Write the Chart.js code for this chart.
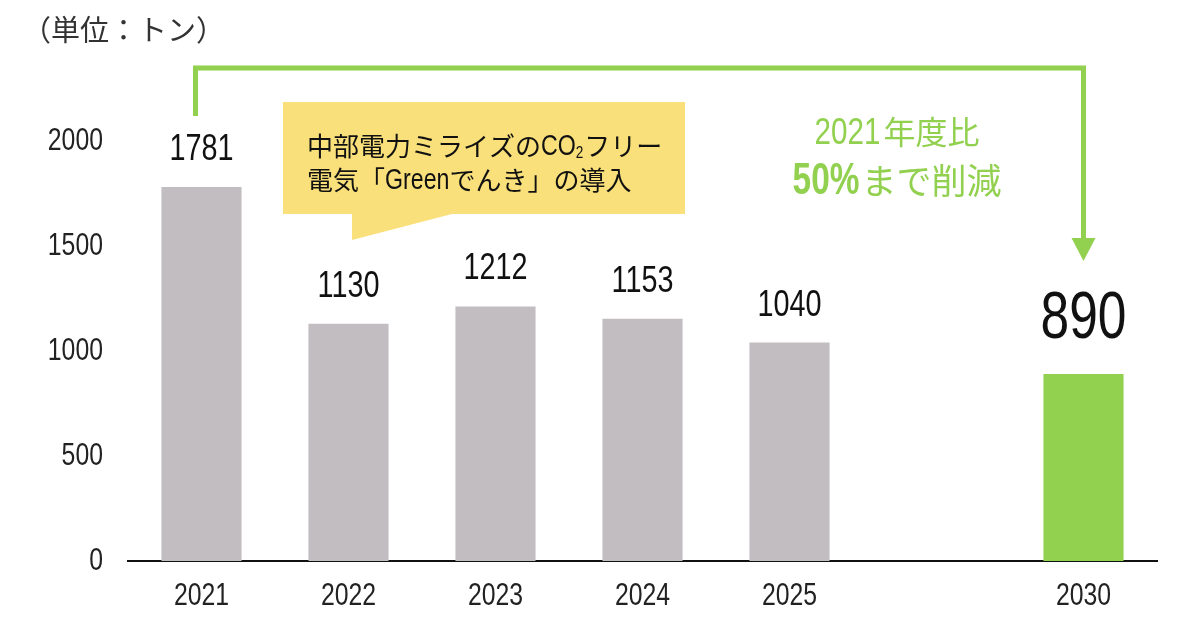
<!DOCTYPE html>
<html>
<head>
<meta charset="utf-8">
<script src="https://cdn.jsdelivr.net/npm/chart.js@4.4.1/dist/chart.umd.min.js"></script>
<style>
  html, body { margin: 0; padding: 0; background: #fff; }
  #wrap { width: 1200px; height: 634px; }
</style>
</head>
<body>
<div id="wrap"><canvas id="co2Chart" width="1200" height="634"></canvas></div>
<script>
// data
const years = ['2021', '2022', '2023', '2024', '2025', '', '2030'];
const emissions = [1781, 1130, 1212, 1153, 1040, null, 890];
const yTicks = [0, 500, 1000, 1500, 2000];

const GRAY = '#c1bdc1';
const GREEN = '#92d050';
const NUM_FONT = '"Liberation Sans", Arial, sans-serif';
const JP_FONT = '"Noto Sans CJK JP", "Noto Sans", sans-serif';
const NARROW = 0.8; // horizontal squeeze for the condensed digits

// draw text squeezed horizontally, returns drawn width
function narrowText(c, text, x, y, font, align, k) {
    k = k || NARROW;
    c.save();
    c.font = font;
    c.textAlign = align;
    c.translate(x, y);
    c.scale(k, 1);
    c.fillText(text, 0, 0);
    const w = c.measureText(text).width * k;
    c.restore();
    return w;
}

const barColors = years.map(y => y === '2030' ? GREEN : GRAY);

// axis tick labels in the condensed look
const tickLabelPlugin = {
    id: 'tickLabels',
    afterDraw(chart) {
        const c = chart.ctx;
        const xs = chart.scales.x, ys = chart.scales.y;
        c.save();
        c.fillStyle = '#222';
        c.textBaseline = 'middle';
        ys.ticks.forEach(t => {
            narrowText(c, String(t.value), ys.right - 25, ys.getPixelForValue(t.value), '31px ' + NUM_FONT, 'right');
        });
        c.textBaseline = 'alphabetic';
        years.forEach((lab, i) => {
            if (!lab) return;
            narrowText(c, lab, xs.getPixelForValue(i), xs.top + 44, '31px ' + NUM_FONT, 'center');
        });
        c.restore();
    }
};

// labels, bracket arrow and callouts
const overlayPlugin = {
    id: 'overlay',
    afterDatasetsDraw(chart) {
        const c = chart.ctx;
        const meta = chart.getDatasetMeta(0);
        const xs = chart.scales.x;
        c.save();

        // unit label
        c.fillStyle = '#333';
        c.font = '29px ' + JP_FONT;
        c.textAlign = 'left';
        c.textBaseline = 'middle';
        c.fillText('（単位：トン）', 22, 30);

        // value labels
        c.textBaseline = 'alphabetic';
        c.fillStyle = '#111';
        meta.data.forEach((bar, i) => {
            const v = emissions[i];
            if (v == null) return;
            const big = years[i] === '2030';
            narrowText(c, String(v), bar.x, bar.y - (big ? 36 : 27),
                (big ? '66px ' : '36px ') + NUM_FONT, 'center', big ? 0.78 : 0.8);
        });

        // green bracket arrow from 2021 to 2030
        const x0 = xs.getPixelForValue(0) - 6;
        const x1 = xs.getPixelForValue(years.indexOf('2030'));
        c.strokeStyle = GREEN;
        c.lineWidth = 5;
        c.lineJoin = 'miter';
        c.beginPath();
        c.moveTo(x0, 116);
        c.lineTo(x0, 68);
        c.lineTo(x1, 68);
        c.lineTo(x1, 240);
        c.stroke();
        c.fillStyle = GREEN;
        c.beginPath();
        c.moveTo(x1 - 12, 238);
        c.lineTo(x1 + 12, 238);
        c.lineTo(x1, 261);
        c.closePath();
        c.fill();

        // green annotation text
        const cx = 897;
        c.fillStyle = GREEN;
        c.textBaseline = 'alphabetic';
        c.font = '37px ' + NUM_FONT;
        const w1a = c.measureText('2021').width * NARROW;
        c.font = '32px ' + JP_FONT;
        const w1b = c.measureText('年度比').width;
        let sx = cx - (w1a + w1b + 3) / 2;
        narrowText(c, '2021', sx, 144, '37px ' + NUM_FONT, 'left');
        c.font = '32px ' + JP_FONT;
        c.textAlign = 'left';
        c.fillText('年度比', sx + w1a + 3, 144);

        c.font = 'bold 44px ' + NUM_FONT;
        const w2a = c.measureText('50%').width * 0.76;
        c.font = '35px ' + JP_FONT;
        const w2b = c.measureText('まで削減').width;
        sx = cx - (w2a + w2b + 2) / 2;
        narrowText(c, '50%', sx, 194, 'bold 44px ' + NUM_FONT, 'left', 0.76);
        c.font = '35px ' + JP_FONT;
        c.textAlign = 'left';
        c.fillText('まで削減', sx + w2a + 2, 194);

        // yellow callout
        c.fillStyle = '#f9e07a';
        c.beginPath();
        c.moveTo(283, 102);
        c.lineTo(685, 102);
        c.lineTo(685, 214);
        c.lineTo(452, 214);
        c.lineTo(352, 240);
        c.lineTo(352, 214);
        c.lineTo(283, 214);
        c.closePath();
        c.fill();

        c.fillStyle = '#111';
        c.textAlign = 'left';
        c.textBaseline = 'middle';
        const jp = '26px ' + JP_FONT;
        let tx = 307;
        c.font = jp;
        c.fillText('中部電力ミライズの', tx, 146);
        tx += c.measureText('中部電力ミライズの').width;
        tx += narrowText(c, 'CO', tx, 147, '29px ' + NUM_FONT, 'left');
        tx += narrowText(c, '2', tx, 153, '17px ' + NUM_FONT, 'left') + 1;
        c.font = jp;
        c.textAlign = 'left';
        c.fillText('フリー', tx, 146);

        tx = 307;
        c.fillText('電気「', tx, 180);
        tx += c.measureText('電気「').width;
        tx += narrowText(c, 'Green', tx, 181, '29px ' + NUM_FONT, 'left');
        c.font = jp;
        c.textAlign = 'left';
        c.fillText('でんき」の導入', tx, 180);

        c.restore();
    }
};

const ctx = document.getElementById('co2Chart').getContext('2d');

new Chart(ctx, {
    type: 'bar',
    data: {
        labels: years,
        datasets: [{
            data: emissions,
            backgroundColor: barColors,
            borderWidth: 0,
            categoryPercentage: 1,
            barPercentage: 0.545
        }]
    },
    options: {
        responsive: false,
        animation: false,
        devicePixelRatio: 1,
        layout: { padding: { top: 141, right: 43, left: 0, bottom: 0 } },
        plugins: {
            legend: { display: false },
            tooltip: { enabled: false }
        },
        scales: {
            y: {
                min: 0,
                max: 2000,
                afterFit(s) { s.width = 128; },
                afterBuildTicks(s) { s.ticks = yTicks.map(v => ({ value: v })); },
                grid: { display: false, drawTicks: false },
                border: { display: false },
                ticks: { display: false }
            },
            x: {
                afterFit(s) { s.height = 73; },
                grid: { display: false, drawTicks: false },
                border: { display: true, color: '#111', width: 2 },
                ticks: { display: false }
            }
        }
    },
    plugins: [overlayPlugin, tickLabelPlugin]
});
</script>
</body>
</html>
